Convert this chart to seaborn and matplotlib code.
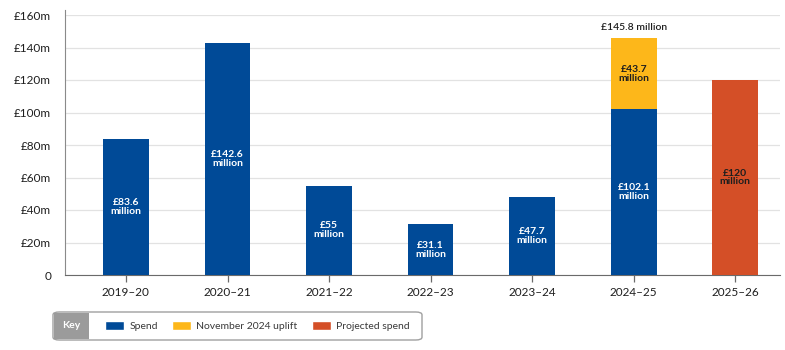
import matplotlib
matplotlib.use('Agg')
import matplotlib.pyplot as plt
import pandas as pd
import seaborn as sns
from matplotlib.patches import Patch, FancyBboxPatch, Rectangle

# chart data (GBP million)
years = ['2019–20', '2020–21', '2021–22', '2022–23', '2023–24', '2024–25', '2025–26']
spend = [83.6, 142.6, 55, 31.1, 47.7, 102.1, 0]
uplift = [0, 0, 0, 0, 0, 43.7, 0]
projected = [0, 0, 0, 0, 0, 0, 120]
bar_labels = ['£83.6\nmillion', '£142.6\nmillion', '£55\nmillion', '£31.1\nmillion',
              '£47.7\nmillion', '£102.1\nmillion', '£120\nmillion']
uplift_label = '£43.7\nmillion'
total_label = '£145.8 million'
y_ticks = [0, 20, 40, 60, 80, 100, 120, 140, 160]
y_tick_labels = ['0', '£20m', '£40m', '£60m', '£80m', '£100m', '£120m', '£140m', '£160m']

blue = '#004a97'
yellow = '#fdb71a'
orange = '#d44f27'
text_col = '#1e1e1e'

df = pd.DataFrame({'year': years, 'spend': spend, 'uplift': uplift, 'projected': projected})
df['total'] = df['spend'] + df['uplift']

sns.set_style('white')
plt.rcParams['font.family'] = ['Lato', 'DejaVu Sans']

fig = plt.figure(figsize=(7.85, 3.5), dpi=100)
ax = fig.add_axes([65 / 785, 1 - 275 / 350, 715 / 785, 260 / 350])

# stacked: total first (yellow), then spend on top, then projected
bar_kw = dict(width=0.45, saturation=1, linewidth=0, ax=ax, zorder=3)
sns.barplot(data=df, x='year', y='total', color=yellow, **bar_kw)
sns.barplot(data=df, x='year', y='spend', color=blue, **bar_kw)
sns.barplot(data=df, x='year', y='projected', color=orange, **bar_kw)

ax.set_xlim(-0.6, 6.44)
ax.set_ylim(0, 160)
ax.set_yticks(y_ticks)
ax.set_yticklabels(y_tick_labels)
ax.set_xlabel('')
ax.set_ylabel('')
ax.yaxis.grid(True, color='#e2e2e2', linewidth=0.9, zorder=0)
ax.set_axisbelow(True)

for s in ['top', 'right']:
    ax.spines[s].set_visible(False)
ax.spines['left'].set_color('#8a8a8a')
ax.spines['bottom'].set_color('#6a6a6a')
ax.spines['left'].set_bounds(0, 163)
ax.tick_params(axis='y', length=7, width=0.9, color='#6a6a6a', labelsize=8.5, labelcolor=text_col, pad=3)
ax.tick_params(axis='x', length=5, width=0.9, color='#6a6a6a', labelsize=8.5, labelcolor=text_col,
               pad=4, bottom=True)

# value labels
lab_kw = dict(ha='center', va='center', fontsize=7.5, fontweight='bold', linespacing=1.0, zorder=4)
for i, lab in enumerate(bar_labels):
    if projected[i] > 0:
        ax.text(i, projected[i] / 2, lab, color=text_col, **lab_kw)
    else:
        ax.text(i, spend[i] / 2, lab, color='white', **lab_kw)
    if uplift[i] > 0:
        ax.text(i, spend[i] + uplift[i] / 2, uplift_label, color=text_col, **lab_kw)
        ax.text(i, spend[i] + uplift[i] + 3.5, total_label, ha='center', va='bottom', fontsize=7.5,
                fontweight='semibold', color=text_col, zorder=4)

# key box
fig.patches.append(FancyBboxPatch((53 / 785, 1 - 340 / 350), 369 / 785, 28 / 350,
                                  boxstyle='round,pad=0,rounding_size=0.008',
                                  transform=fig.transFigure, facecolor='white',
                                  edgecolor='#a0a0a0', linewidth=1.0))
fig.patches.append(Rectangle((54 / 785, 1 - 339 / 350), 35 / 785, 26 / 350,
                             transform=fig.transFigure, facecolor='#9b9b9b', edgecolor='none'))
fig.text(71 / 785, 1 - 326 / 350, 'Key', ha='center', va='center', fontsize=7.5,
         fontweight='bold', color='white')

handles = [Patch(facecolor=blue, label='Spend'),
           Patch(facecolor=yellow, label='November 2024 uplift'),
           Patch(facecolor=orange, label='Projected spend')]
fig.legend(handles=handles, loc='center left', bbox_to_anchor=(96 / 785, 1 - 326 / 350),
           ncol=3, frameon=False, fontsize=7.5, handlelength=1.8, handleheight=1.0,
           handletextpad=0.5, columnspacing=1.4, labelcolor='#3a3a3a')

fig.savefig('out.png', dpi=100)
